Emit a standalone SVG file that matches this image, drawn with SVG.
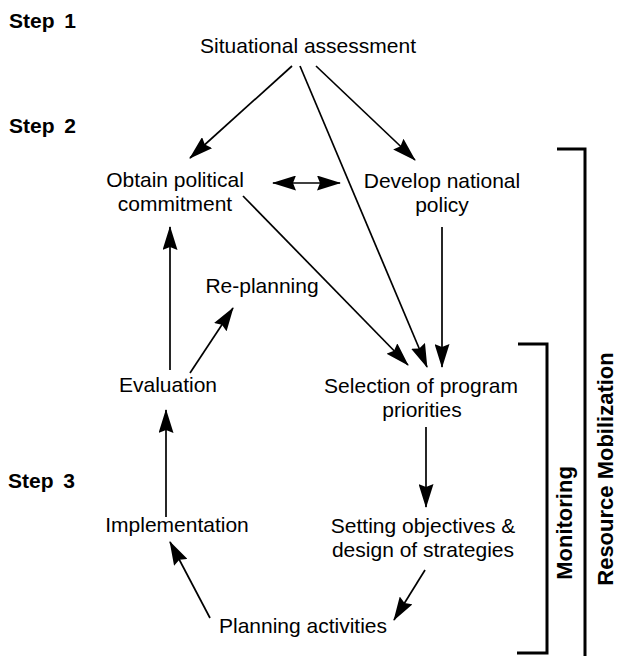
<svg xmlns="http://www.w3.org/2000/svg" width="619" height="656" viewBox="0 0 619 656">
<defs>
<style>
.t{font-family:"Liberation Sans",Arial,sans-serif;font-size:21px;fill:#000;text-anchor:middle}
.s{font-family:"Liberation Sans",Arial,sans-serif;font-size:21px;font-weight:bold;fill:#000;word-spacing:4px}
.v{font-family:"Liberation Sans",Arial,sans-serif;font-size:22px;font-weight:bold;fill:#000;text-anchor:middle}
.c{stroke:#000;stroke-width:1.7;fill:none}
.b{stroke:#000;stroke-width:3;fill:none}
</style>
<marker id="ah" markerUnits="userSpaceOnUse" markerWidth="24" markerHeight="15" refX="23" refY="7.5" orient="auto-start-reverse" viewBox="0 0 24 15">
<path d="M0,0 L24,7.5 L0,15 L3,7.5 z" fill="#000"/>
</marker>
</defs>
<rect width="619" height="656" fill="#fff"/>
<g id="steps">
<text class="s" x="9" y="28">Step 1</text>
<text class="s" x="9" y="133">Step 2</text>
<text class="s" x="8" y="488">Step 3</text>
</g>
<g id="situational"><text class="t" x="308" y="53">Situational assessment</text></g>
<g id="obtain"><text class="t" x="175" y="187">Obtain political</text><text class="t" x="175" y="211">commitment</text></g>
<g id="develop"><text class="t" x="442" y="188">Develop national</text><text class="t" x="442" y="212">policy</text></g>
<g id="replanning"><text class="t" x="262" y="293">Re-planning</text></g>
<g id="evaluation"><text class="t" x="168" y="392">Evaluation</text></g>
<g id="selection"><text class="t" x="421" y="393">Selection of program</text><text class="t" x="422" y="417">priorities</text></g>
<g id="implementation"><text class="t" x="177" y="532">Implementation</text></g>
<g id="setting"><text class="t" x="423" y="533">Setting objectives &amp;</text><text class="t" x="423" y="557">design of strategies</text></g>
<g id="planning"><text class="t" x="303" y="633">Planning activities</text></g>
<g id="monitoring">
<path class="b" d="M518,344 H547 V653 H517"/>
<text class="v" transform="translate(572,523) rotate(-90)">Monitoring</text>
</g>
<g id="resource">
<path class="b" d="M557,149 H585 V656"/>
<text class="v" transform="translate(613,469) rotate(-90)">Resource Mobilization</text>
</g>
<g id="connectors">
<line class="c" x1="292" y1="66" x2="190" y2="158" marker-end="url(#ah)"/>
<line class="c" x1="300" y1="66" x2="427" y2="367" marker-end="url(#ah)"/>
<line class="c" x1="316" y1="66" x2="415" y2="160" marker-end="url(#ah)"/>
<line class="c" x1="273" y1="183" x2="340" y2="183" marker-start="url(#ah)" marker-end="url(#ah)"/>
<line class="c" x1="243" y1="196" x2="408" y2="365" marker-end="url(#ah)"/>
<line class="c" x1="442" y1="227" x2="442" y2="367" marker-end="url(#ah)"/>
<line class="c" x1="170" y1="370" x2="170" y2="227" marker-end="url(#ah)"/>
<line class="c" x1="190" y1="373" x2="233" y2="308" marker-end="url(#ah)"/>
<line class="c" x1="426" y1="427" x2="426" y2="507" marker-end="url(#ah)"/>
<line class="c" x1="425" y1="570" x2="394" y2="620" marker-end="url(#ah)"/>
<line class="c" x1="210" y1="618" x2="170" y2="542" marker-end="url(#ah)"/>
<line class="c" x1="166" y1="517" x2="166" y2="410" marker-end="url(#ah)"/>
</g>
</svg>
